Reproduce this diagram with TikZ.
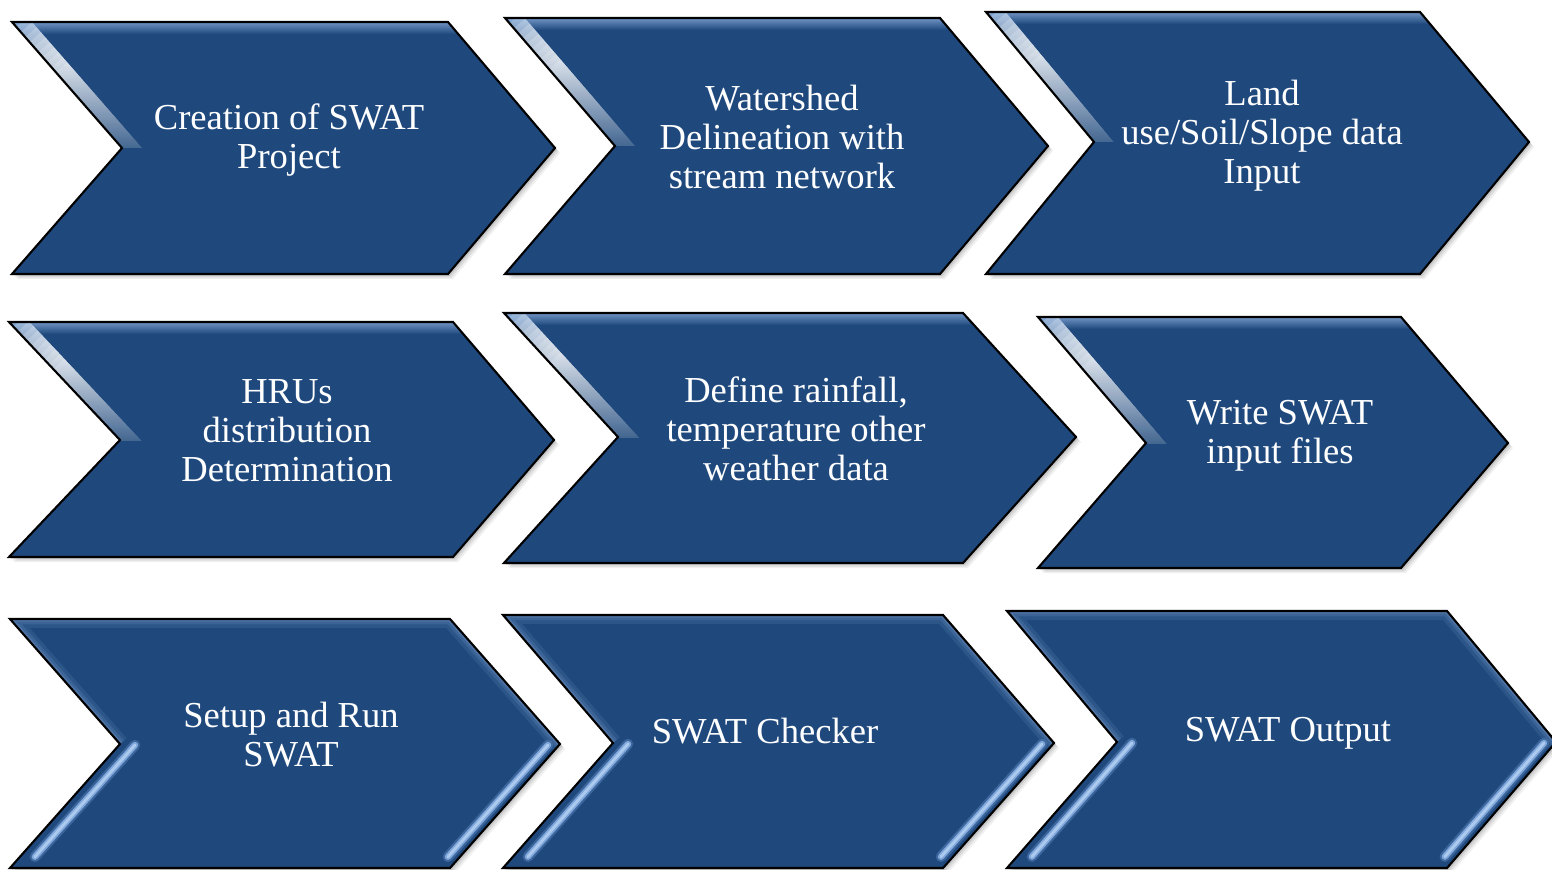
\documentclass[tikz,border=0pt]{standalone}
\usepackage{fontspec}
\setmainfont{Liberation Serif}
\definecolor{chevblue}{RGB}{31,73,125}
\definecolor{bandtop}{RGB}{112,148,196}
\definecolor{glowblue}{RGB}{120,156,204}
\definecolor{stripeout}{RGB}{80,120,176}
\definecolor{stripemid}{RGB}{128,168,220}
\definecolor{stripein}{RGB}{172,202,238}
\definecolor{gleamblue}{RGB}{150,186,230}
\tikzset{
  chevtext/.style={text=white, align=center, inner sep=0pt, font=\fontsize{10.4pt}{11.1pt}\selectfont},
  chevedge/.style={draw=black, line width=0.6pt, line join=miter},
}
% #1 options, #2 L, #3 T, #4 R, #5 P, #6 M, #7 B, #8 N
\newcommand\chevpoly[8]{\path[#1] (#2,#3) -- (#4,#3) -- (#5,#6) -- (#4,#7) -- (#2,#7) -- (#8,#6) -- cycle;}
\newcommand\chevshadow[7]{%
  \begin{scope}[shift={(5,5)}]\chevpoly{fill=black,opacity=0.06}{#1}{#2}{#3}{#4}{#5}{#6}{#7}\end{scope}
  \begin{scope}[shift={(3.5,3.5)}]\chevpoly{fill=black,opacity=0.08}{#1}{#2}{#3}{#4}{#5}{#6}{#7}\end{scope}
  \begin{scope}[shift={(2,2)}]\chevpoly{fill=black,opacity=0.10}{#1}{#2}{#3}{#4}{#5}{#6}{#7}\end{scope}
}
% style A: top band + white gleam on upper-left edge
\newcommand\chevA[7]{%
  \chevshadow{#1}{#2}{#3}{#4}{#5}{#6}{#7}
  \chevpoly{fill=chevblue}{#1}{#2}{#3}{#4}{#5}{#6}{#7}
  \begin{scope}
    \chevpoly{clip}{#1}{#2}{#3}{#4}{#5}{#6}{#7}
    \shade[top color=bandtop, bottom color=chevblue] (#1,#2) -- (#3,#2) -- (#3+9,#2+12) -- (#1,#2+12) -- cycle;
    \clip (#1-30,#2-5) rectangle (#7+60,#5);
    \pgfmathsetmacro\ang{atan2(#2-#5,#7-#1)}
    \pgfmathsetmacro\len{veclen(#7-#1,#5-#2)}
    \begin{scope}[shift={(#1,#2)}, rotate=\ang]
      \shade[top color=gleamblue, bottom color=chevblue, opacity=0.7] (-5,0) rectangle (\len+30,-15);
      \foreach \k in {0,...,9} {
        \shade[top color=white, middle color=gleamblue!70!white, bottom color=chevblue, opacity=0.22] ({(0.04+0.04*\k)*\len},0) rectangle (\len+30,-15);
      }
    \end{scope}
  \end{scope}
  \chevpoly{chevedge}{#1}{#2}{#3}{#4}{#5}{#6}{#7}
}
% style B: inner glow on upper edges + light stripes on lower edges
\newcommand\chevB[7]{%
  \chevshadow{#1}{#2}{#3}{#4}{#5}{#6}{#7}
  \chevpoly{fill=chevblue}{#1}{#2}{#3}{#4}{#5}{#6}{#7}
  \begin{scope}
    \chevpoly{clip}{#1}{#2}{#3}{#4}{#5}{#6}{#7}
    \draw[glowblue, line width=5pt, opacity=0.15] (#7,#5) -- (#1,#2) -- (#3,#2) -- (#4,#5);
    \draw[glowblue, line width=3pt, opacity=0.2] (#7,#5) -- (#1,#2) -- (#3,#2) -- (#4,#5);
    \draw[glowblue, line width=1.5pt, opacity=0.3] (#7,#5) -- (#1,#2) -- (#3,#2) -- (#4,#5);
    \foreach \sx/\sp/\sq in {15/#7/#1, -12/#4/#3} {
      \draw[stripeout, line width=3pt, opacity=0.6, line cap=round] (\sp+\sx,#5+1) -- (\sp+\sx-0.91*\sp+0.91*\sq,#5+0.91*#6-0.91*#5);
      \draw[stripemid, line width=1.8pt, line cap=round] (\sp+\sx,#5+1) -- (\sp+\sx-0.91*\sp+0.91*\sq,#5+0.91*#6-0.91*#5);
      \draw[stripein, line width=0.8pt, line cap=round] (\sp+\sx,#5+1) -- (\sp+\sx-0.91*\sp+0.91*\sq,#5+0.91*#6-0.91*#5);
    }
  \end{scope}
  \chevpoly{chevedge}{#1}{#2}{#3}{#4}{#5}{#6}{#7}
}
\begin{document}
\begin{tikzpicture}[x=0.01cm, y=-0.01cm]
\useasboundingbox (0,0) rectangle (1552,870);
\fill[white] (0,0) rectangle (1552,870);
% row 1:   L    T   R    P    M   B   N
\chevA{12}{22}{448}{555}{148}{274}{122}
\chevA{505}{18}{940}{1048}{146}{274}{615}
\chevA{986}{12}{1420}{1529}{142}{274}{1094}
% row 2
\chevA{9}{322}{453}{554}{440}{557}{120}
\chevA{504}{313}{963}{1076}{437}{563}{618}
\chevA{1038}{317}{1401}{1508}{443}{568}{1146}
% row 3
\chevB{10}{619}{450}{560}{744}{868}{120}
\chevB{503}{615}{943}{1054}{743}{868}{613}
\chevB{1007}{611}{1447}{1556}{742}{868}{1117}
% texts
\node[chevtext] (c1) at (289,140) {Creation of SWAT\\Project};
\node[chevtext] (c2) at (782,137) {Watershed\\Delineation with\\stream network};
\node[chevtext] (c3) at (1262,136) {Land\\use/Soil/Slope data\\Input};
\node[chevtext] (c4) at (287,431) {HRUs\\distribution\\Determination};
\node[chevtext] (c5) at (796,429) {Define rainfall,\\temperature other\\weather data};
\node[chevtext] (c6) at (1280,436) {Write SWAT\\input files};
\node[chevtext] (c7) at (291,735) {Setup and Run\\SWAT};
\node[chevtext] (c8) at (765,731) {SWAT Checker};
\node[chevtext] (c9) at (1288,733) {SWAT Output};
\end{tikzpicture}
\end{document}
